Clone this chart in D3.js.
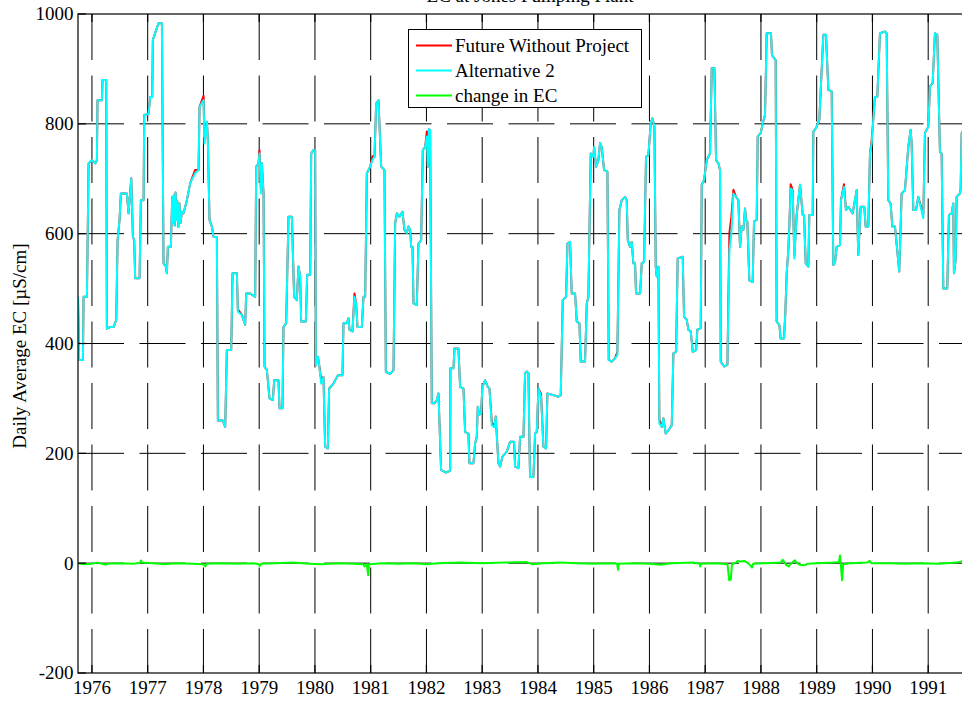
<!DOCTYPE html>
<html>
<head>
<meta charset="utf-8">
<script src="https://cdn.jsdelivr.net/npm/d3@7"></script>
<style>
  body { margin: 0; background: #fff; }
  svg { display: block; }
  text { font-family: "Liberation Serif", "Times New Roman", serif; font-size: 19px; fill: #000; }
</style>
</head>
<body>
<svg id="chart" width="962" height="702"></svg>
<script>
// Daily average EC, water years 1976-1991 (dates as decimal years)
const dates = [
  1975.750,1975.770,1975.838,1975.850,1975.910,1975.940,1976.000,1976.060,1976.089,1976.100,1976.179,1976.190,1976.256,1976.268,1976.330,1976.388,1976.436,1976.460,1976.495,1976.519,1976.627,1976.657,1976.705,1976.735,1976.758,1976.776,1976.854,1976.878,1976.926,1976.938,
  1977.015,1977.045,1977.081,1977.093,1977.153,1977.195,1977.255,1977.284,1977.326,1977.344,1977.362,1977.416,1977.440,1977.455,1977.470,1977.485,1977.500,1977.515,1977.530,1977.550,1977.570,1977.590,1977.613,1977.643,1977.703,1977.763,1977.852,1977.912,1977.930,
  1978.002,1978.020,1978.062,1978.079,1978.109,1978.151,1978.181,1978.241,1978.259,1978.348,1978.390,1978.420,1978.498,1978.522,1978.600,1978.617,1978.689,1978.749,1978.767,1978.838,1978.928,1978.946,1978.988,
  1979.006,1979.030,1979.048,1979.078,1979.096,1979.137,1979.185,1979.245,1979.269,1979.346,1979.364,1979.418,1979.436,1979.484,1979.526,1979.586,1979.627,1979.675,1979.705,1979.735,1979.753,1979.837,1979.861,1979.915,1979.933,1979.974,
  1980.004,1980.016,1980.052,1980.076,1980.112,1980.153,1980.183,1980.231,1980.255,1980.333,1980.411,1980.494,1980.512,1980.572,1980.602,1980.620,1980.673,1980.709,1980.739,1980.763,1980.841,1980.871,1980.901,1980.931,1980.991,
  1981.032,1981.068,1981.098,1981.140,1981.188,1981.247,1981.272,1981.349,1981.409,1981.439,1981.469,1981.516,1981.570,1981.606,1981.648,1981.678,1981.708,1981.726,1981.750,1981.768,1981.827,1981.857,1981.905,1981.935,1981.977,
  1982.007,1982.025,1982.045,1982.066,1982.096,1982.144,1982.186,1982.216,1982.263,1982.350,1982.425,1982.430,1982.485,1982.503,1982.574,1982.604,1982.664,1982.694,1982.753,1982.771,1982.843,1982.873,1982.903,1982.921,1982.944,1982.980,
  1983.004,1983.052,1983.100,1983.130,1983.173,1983.219,1983.243,1983.291,1983.321,1983.363,1983.441,1983.501,1983.572,1983.590,1983.650,1983.680,1983.740,1983.769,1983.800,1983.830,1983.847,1983.859,1983.919,1983.949,1983.979,
  1984.009,1984.056,1984.098,1984.146,1984.170,1984.277,1984.367,1984.409,1984.445,1984.505,1984.529,1984.576,1984.606,1984.666,1984.696,1984.744,1984.768,1984.845,1984.876,1984.905,1984.947,1984.995,
  1985.007,1985.043,1985.084,1985.114,1985.144,1985.186,1985.246,1985.270,1985.323,1985.383,1985.425,1985.461,1985.503,1985.563,1985.593,1985.611,1985.653,1985.683,1985.712,1985.742,1985.760,1985.832,1985.862,1985.904,1985.939,1985.981,
  1986.023,1986.053,1986.089,1986.113,1986.131,1986.161,1986.178,1986.220,1986.250,1986.292,1986.340,1986.400,1986.430,1986.478,1986.507,1986.597,1986.621,1986.669,1986.699,1986.741,1986.777,1986.836,1986.860,1986.920,1986.938,1986.980,
  1987.028,1987.087,1987.117,1987.165,1987.195,1987.237,1987.266,1987.279,1987.338,1987.398,1987.434,1987.470,1987.506,1987.553,1987.595,1987.625,1987.655,1987.685,1987.715,1987.732,1987.756,1987.792,1987.852,1987.876,1987.924,1987.942,1987.996,
  1988.032,1988.073,1988.103,1988.180,1988.198,1988.264,1988.282,1988.330,1988.354,1988.414,1988.437,1988.462,1988.491,1988.509,1988.534,1988.570,1988.599,1988.641,1988.701,1988.749,1988.773,1988.803,1988.850,1988.868,1988.928,1988.940,1988.988,
  1989.047,1989.119,1989.167,1989.209,1989.269,1989.298,1989.328,1989.358,1989.418,1989.436,1989.490,1989.525,1989.567,1989.645,1989.717,1989.746,1989.789,1989.854,1989.878,1989.926,1989.956,1989.986,
  1990.045,1990.087,1990.135,1990.225,1990.255,1990.284,1990.326,1990.356,1990.404,1990.481,1990.524,1990.583,1990.643,1990.685,1990.703,1990.733,1990.781,1990.822,1990.912,1990.942,
  1991.002,1991.032,1991.080,1991.121,1991.163,1991.211,1991.241,1991.271,1991.342,1991.372,1991.420,1991.450,1991.462,1991.492,1991.510,1991.570,1991.582,1991.600,1991.640,1991.750
];

// Future Without Project, µS/cm
const fwpEC = [
  485,370,370,485,485,728,734,728,734,843,843,880,880,427,430,430,443,588,625,673,673,637,701,594,588,519,519,661,661,816,
  818,849,849,953,971,983,983,546,540,528,576,576,667,620,670,615,675,625,660,612,655,620,640,637,661,692,716,716,831,
  851,775,804,771,625,613,594,594,260,260,248,388,388,528,528,462,452,434,491,491,485,722,728,
  752,683,728,673,358,352,300,297,333,333,282,282,430,437,631,631,485,479,540,522,440,440,525,525,746,752,
  752,361,376,361,334,339,212,209,318,327,342,342,437,437,446,425,422,491,473,430,430,485,485,710,722,
  741,740,837,843,722,716,348,345,351,619,637,631,640,607,601,613,607,576,576,473,470,582,588,752,758,
  786,722,790,789,291,291,297,309,170,165,168,355,355,391,391,321,318,239,236,182,182,218,230,285,270,273,
  321,333,321,318,257,248,267,182,176,194,203,221,221,176,173,230,230,346,349,346,224,157,157,236,239,
  318,308,212,209,309,306,303,306,479,485,582,585,491,491,440,437,367,367,473,485,746,740,
  758,722,734,765,758,716,713,370,367,373,385,643,661,667,661,588,576,585,546,546,491,491,546,549,740,743,
  801,810,795,540,522,540,262,248,264,236,242,251,382,385,555,558,449,443,425,422,385,388,425,428,689,698,
  734,746,901,901,734,728,716,367,358,361,601,631,680,667,661,576,613,607,646,625,622,515,512,622,625,777,783,
  801,816,965,965,925,916,440,434,409,409,455,528,570,613,690,679,560,634,689,634,634,546,540,634,634,786,792,
  807,962,962,862,859,543,546,576,579,661,690,643,649,637,679,561,649,649,613,613,746,770,
  849,849,965,968,965,661,655,613,613,531,673,679,758,789,765,643,643,667,634,783,
  795,868,874,965,962,749,746,500,500,634,637,655,528,552,667,673,682,783,790,785
];

// Alternative 2, µS/cm
const alt2EC = [
  485,370,370,485,485,728,734,728,734,843,843,880,880,427,430,430,443,588,625,673,673,637,701,594,588,519,519,661,661,816,
  818,849,849,953,971,983,983,546,540,528,576,576,667,620,670,615,675,625,660,612,655,620,640,637,661,692,710,716,831,
  843,764,804,771,625,613,594,594,260,260,248,388,388,528,528,458,452,434,491,491,485,722,728,
  746,673,728,673,358,352,300,297,333,333,282,282,430,437,631,631,485,479,540,522,440,440,525,525,746,752,
  752,361,376,361,327,339,212,209,318,327,342,342,437,437,446,425,422,485,473,430,430,485,485,710,722,
  734,740,837,843,722,716,348,345,351,619,637,631,640,607,601,613,607,576,576,473,470,582,588,752,758,
  777,722,790,789,291,291,297,309,170,165,168,355,355,391,391,321,318,239,236,182,182,218,230,285,270,273,
  321,333,321,318,251,248,267,182,176,194,203,221,221,176,173,230,230,346,349,346,224,157,157,236,239,
  318,303,212,209,309,306,303,306,479,485,582,585,491,491,440,437,367,367,473,485,746,740,
  758,722,734,765,758,716,713,370,367,373,379,643,661,667,661,588,576,585,546,546,491,491,546,549,740,743,
  801,810,795,540,522,540,254,248,264,236,242,251,382,385,555,558,449,443,425,422,385,388,425,428,689,698,
  734,746,901,901,734,728,716,367,358,361,570,600,673,667,661,576,613,607,646,625,622,515,512,622,625,777,783,
  801,816,965,965,925,916,440,434,409,409,455,528,570,613,682,679,555,634,689,634,634,546,540,634,634,786,792,
  807,962,962,862,859,543,546,576,579,661,685,643,649,637,679,561,649,649,613,613,746,764,
  849,849,965,968,965,661,655,613,613,531,673,679,758,789,765,643,643,667,628,783,
  795,868,874,965,962,749,746,500,500,634,637,655,528,552,667,673,682,783,790,785
];

// Change in EC (Alternative 2 minus Future Without Project), µS/cm
const changeDates = [
  1975.750,1975.850,1976.000,1976.100,1976.250,1976.270,1976.500,1976.750,1976.860,1976.880,1976.900,1977.100,1977.300,1977.500,1977.800,
  1978.000,1978.030,1978.060,1978.300,1978.600,1978.900,1978.990,1979.010,1979.040,1979.300,1979.600,1979.900,1980.100,1980.400,1980.700,
  1980.870,1980.890,1980.930,1980.955,1980.970,1981.200,1981.500,1981.800,1982.000,1982.200,1982.600,1983.000,1983.400,1983.800,1983.900,
  1984.100,1984.400,1984.700,1985.000,1985.300,1985.420,1985.437,1985.450,1985.700,1986.000,1986.200,1986.400,1986.800,1986.900,1986.910,
  1986.930,1987.200,1987.400,1987.430,1987.460,1987.480,1987.550,1987.580,1987.620,1987.700,1987.780,1987.840,1987.860,1988.100,1988.350,
  1988.390,1988.420,1988.450,1988.500,1988.530,1988.570,1988.610,1988.640,1988.700,1988.780,1988.840,1989.000,1989.300,1989.400,1989.418,
  1989.430,1989.455,1989.475,1989.600,1989.900,1989.950,1989.980,1990.300,1990.600,1990.900,1991.200,1991.500,1991.600,1991.650,1991.750
];
const changeEC = [
  0,-2,-1,1,-3,-1,0,-1,1,5,1,0,-2,0,-1,
  -2,-6,-1,0,-1,0,-2,-5,-1,0,1,-1,-2,0,-1,
  -2,-6,-2,-22,-2,0,-1,0,-2,0,1,0,1,2,-2,
  0,1,0,-1,0,-1,-12,-1,0,-1,-3,0,1,-1,-6,
  -1,0,-2,-31,-30,-2,1,4,3,4,-1,-8,-1,0,1,
  6,2,-3,-6,-2,2,5,1,-3,-4,-1,0,1,2,14,
  1,-31,-2,0,1,4,0,0,-1,0,-1,1,3,1,0
];

const yTicks = [-200, 0, 200, 400, 600, 800, 1000];
const xTicks = [1976,1977,1978,1979,1980,1981,1982,1983,1984,1985,1986,1987,1988,1989,1990,1991];

const seriesNames = ["Future Without Project", "Alternative 2", "change in EC"];
const seriesColors = ["#ff0000", "#00ffff", "#00ff00"];

const titleText = "EC at Jones Pumping Plant";
const yLabel = "Daily Average EC [\u00b5S/cm]";

// ---- layout ----
const svg = d3.select("#chart");
const plot = { left: 78, top: 14, right: 970, bottom: 673 };

const x = d3.scaleLinear().domain([1975.75, 1991.75]).range([plot.left, plot.right]);
const y = d3.scaleLinear().domain([-200, 1000]).range([plot.bottom, plot.top]);

svg.append("rect").attr("width", 962).attr("height", 702).attr("fill", "#fff");

svg.append("defs").append("clipPath").attr("id", "plotClip")
  .append("rect")
  .attr("x", plot.left).attr("y", plot.top)
  .attr("width", plot.right - plot.left).attr("height", plot.bottom - plot.top);

// grid
const grid = svg.append("g").attr("stroke", "#000").attr("stroke-width", 1)
  .attr("stroke-dasharray", "46 15.5").attr("fill", "none");
grid.selectAll("line.h").data(yTicks.filter(v => v > -200 && v < 1000)).join("line")
  .attr("class", "h")
  .attr("x1", plot.left).attr("x2", plot.right)
  .attr("y1", d => y(d)).attr("y2", d => y(d));
grid.selectAll("line.v").data(xTicks).join("line")
  .attr("class", "v")
  .attr("x1", d => x(d)).attr("x2", d => x(d))
  .attr("y1", plot.top).attr("y2", plot.bottom);

// data lines
const lineGen = d3.line().x(d => x(d[0])).y(d => y(d[1]));
const lines = svg.append("g").attr("clip-path", "url(#plotClip)")
  .attr("fill", "none").attr("stroke-width", 2).attr("stroke-linejoin", "round");

const fwpData = dates.map((t, i) => [t, fwpEC[i]]);
const alt2Data = dates.map((t, i) => [t, alt2EC[i]]);
const changeData = changeDates.map((t, i) => [t, changeEC[i]]);

lines.append("path").datum(fwpData).attr("stroke", seriesColors[0]).attr("d", lineGen);
lines.append("path").datum(alt2Data).attr("stroke", seriesColors[1]).attr("d", lineGen);
lines.append("path").datum(changeData).attr("stroke", seriesColors[2]).attr("d", lineGen);

// axes box and inward ticks
const axes = svg.append("g").attr("stroke", "#000").attr("stroke-width", 1.2).attr("fill", "none");
axes.append("rect")
  .attr("x", plot.left).attr("y", plot.top)
  .attr("width", plot.right - plot.left).attr("height", plot.bottom - plot.top);
const tickLen = 8;
axes.selectAll("line.yt").data(yTicks).join("line").attr("class", "yt")
  .attr("x1", plot.left).attr("x2", plot.left + tickLen)
  .attr("y1", d => y(d)).attr("y2", d => y(d));
axes.selectAll("line.xb").data(xTicks).join("line").attr("class", "xb")
  .attr("x1", d => x(d)).attr("x2", d => x(d))
  .attr("y1", plot.bottom).attr("y2", plot.bottom - tickLen);
axes.selectAll("line.xt").data(xTicks).join("line").attr("class", "xt")
  .attr("x1", d => x(d)).attr("x2", d => x(d))
  .attr("y1", plot.top).attr("y2", plot.top + tickLen);

// tick labels
svg.append("g").selectAll("text").data(xTicks).join("text")
  .attr("x", d => x(d)).attr("y", 694)
  .attr("text-anchor", "middle")
  .text(d => d);
svg.append("g").selectAll("text").data(yTicks).join("text")
  .attr("x", 73.5).attr("y", d => y(d)).attr("dy", "0.34em")
  .attr("text-anchor", "end")
  .text(d => d);

// axis label and title
svg.append("text")
  .attr("transform", "translate(26,346) rotate(-90)")
  .attr("text-anchor", "middle")
  .text(yLabel);
svg.append("text")
  .attr("x", 530).attr("y", 1.5)
  .attr("text-anchor", "middle")
  .text(titleText);

// legend
const legend = svg.append("g");
legend.append("rect")
  .attr("x", 408.5).attr("y", 29.5).attr("width", 233).attr("height", 78)
  .attr("fill", "#fff").attr("stroke", "#000").attr("stroke-width", 1);
const rowY = [45.5, 70.5, 95.5];
seriesNames.forEach((name, i) => {
  legend.append("line")
    .attr("x1", 416).attr("x2", 452)
    .attr("y1", rowY[i]).attr("y2", rowY[i])
    .attr("stroke", seriesColors[i]).attr("stroke-width", 2);
  legend.append("text")
    .attr("x", 455).attr("y", rowY[i]).attr("dy", "0.33em")
    .text(name);
});
</script>
</body>
</html>
